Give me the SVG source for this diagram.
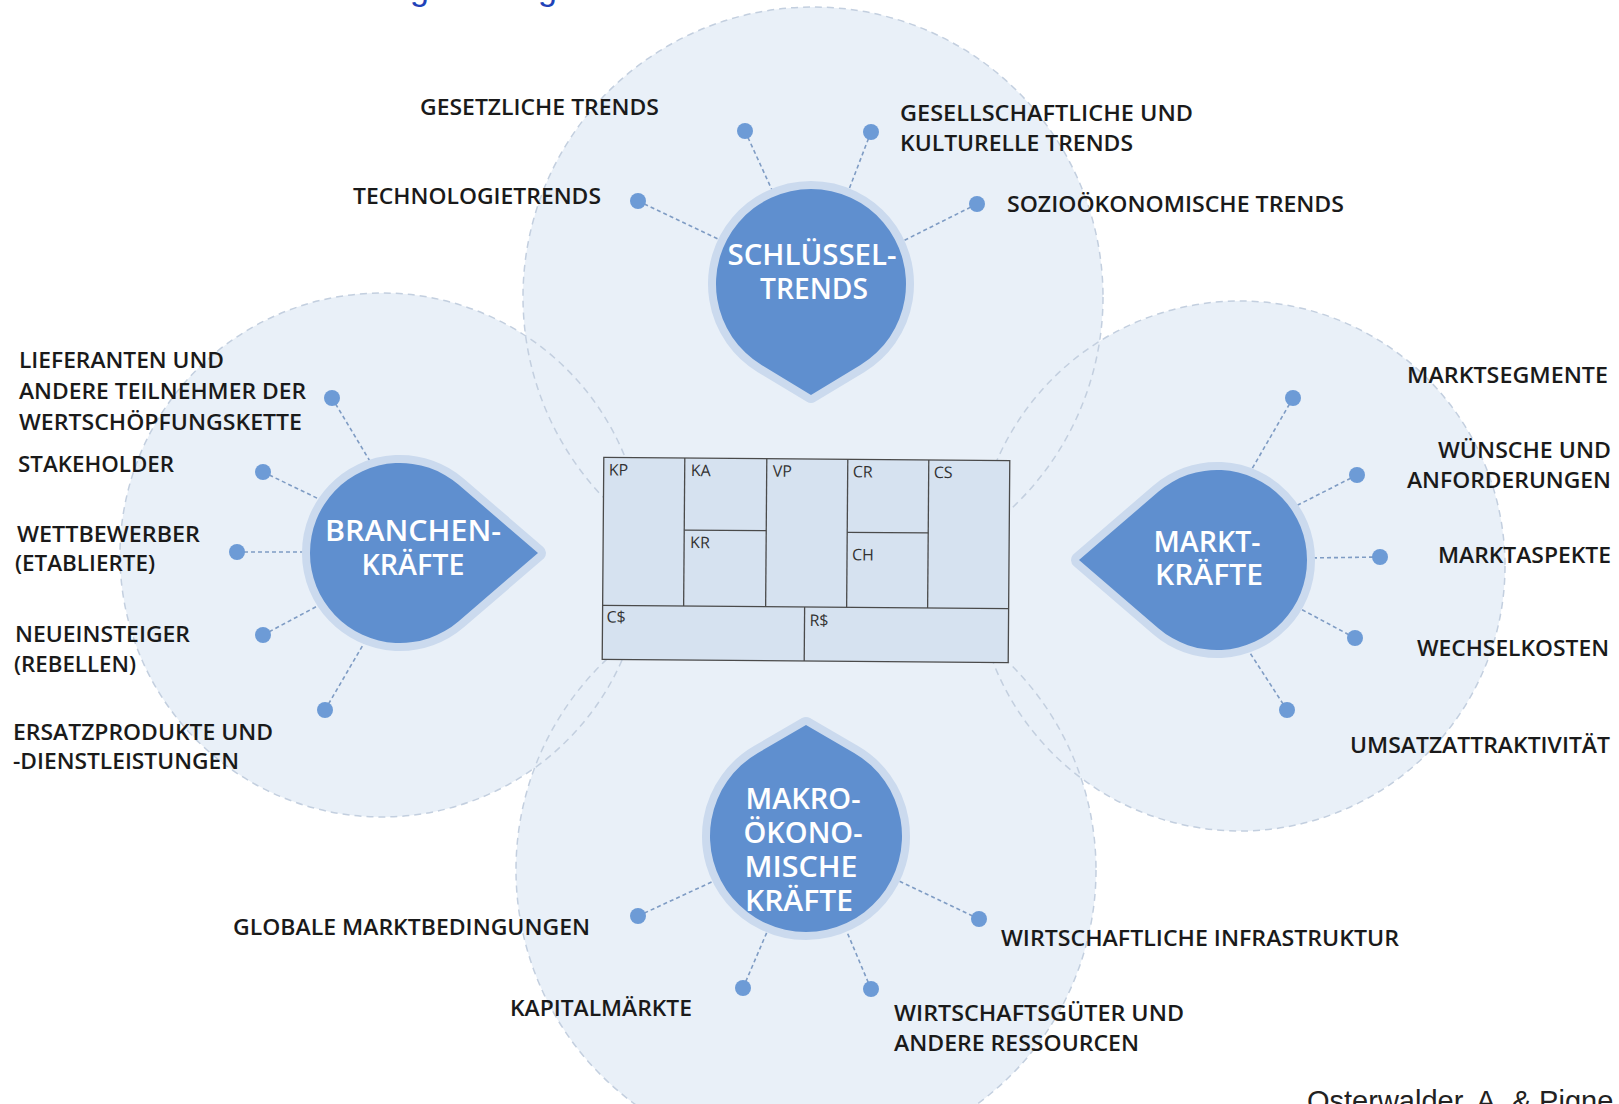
<svg xmlns="http://www.w3.org/2000/svg" width="1619" height="1104" viewBox="0 0 1619 1104">
<defs>
<style>
.bg{fill:#e9f0f8}
.bgedge{fill:none;stroke:#c3cfdf;stroke-width:1.5;stroke-dasharray:7 5}
.halo{fill:#cbdaee;stroke:#cbdaee;stroke-width:16;stroke-linejoin:round}
.drop{fill:#5f8fcf}
.dt{font-family:"Open Sans","Noto Sans",sans-serif;font-weight:600;font-size:29px;fill:#ffffff;text-anchor:middle}
.lbl{font-family:"Open Sans","Noto Sans",sans-serif;font-weight:600;font-size:22px;fill:#1a1a1a}
.end{text-anchor:end}
.dot{fill:#6d9bd6}
.con line{stroke:#7f9cc4;stroke-width:1.6;stroke-dasharray:4 3}
.cv{fill:#d6e2f0;stroke:#4a4a4a;stroke-width:1.3}
.cvl{stroke:#4a4a4a;stroke-width:1.3}
.ct{font-family:"Open Sans","Noto Sans",sans-serif;font-size:16px;fill:#333}
</style>
</defs>
<rect width="1619" height="1104" fill="#ffffff"/>
<text x="410" y="0" font-family="Liberation Sans, Arial, sans-serif" font-size="34" fill="#2142b8">g</text>
<text x="538" y="0" font-family="Liberation Sans, Arial, sans-serif" font-size="34" fill="#2142b8">g</text>
<g id="background">
<circle class="bg" cx="813" cy="297" r="290"/>
<circle class="bg" cx="382" cy="555" r="262"/>
<circle class="bg" cx="1240" cy="566" r="265"/>
<circle class="bg" cx="806" cy="870" r="290"/>
<circle class="bgedge" cx="813" cy="297" r="290"/>
<circle class="bgedge" cx="382" cy="555" r="262"/>
<circle class="bgedge" cx="1240" cy="566" r="265"/>
<circle class="bgedge" cx="806" cy="870" r="290"/>
</g>
<g id="canvas" transform="rotate(0.45 806 560)">
<rect class="cv" x="603" y="459" width="406" height="202"/>
<line class="cvl" x1="603" y1="607" x2="1009" y2="607"/>
<line class="cvl" x1="684" y1="459" x2="684" y2="607"/>
<line class="cvl" x1="766" y1="459" x2="766" y2="607"/>
<line class="cvl" x1="847" y1="459" x2="847" y2="607"/>
<line class="cvl" x1="928" y1="459" x2="928" y2="607"/>
<line class="cvl" x1="684" y1="531" x2="766" y2="531"/>
<line class="cvl" x1="847" y1="532" x2="928" y2="532"/>
<line class="cvl" x1="805" y1="607" x2="805" y2="661"/>
<text class="ct" x="608" y="477">KP</text>
<text class="ct" x="690" y="477">KA</text>
<text class="ct" x="772" y="477">VP</text>
<text class="ct" x="852" y="477">CR</text>
<text class="ct" x="933" y="477">CS</text>
<text class="ct" x="690" y="549">KR</text>
<text class="ct" x="852" y="560">CH</text>
<text class="ct" x="607" y="624">C$</text>
<text class="ct" x="810" y="626">R$</text>
</g>
<g id="connectors" class="con">
<line x1="745" y1="131" x2="772" y2="190"/>
<line x1="871" y1="132" x2="848" y2="192"/>
<line x1="638" y1="201" x2="720" y2="240"/>
<line x1="977" y1="204" x2="903" y2="241"/>
<line x1="332" y1="398" x2="371" y2="463"/>
<line x1="263" y1="472" x2="325" y2="502"/>
<line x1="237" y1="552" x2="312" y2="552"/>
<line x1="263" y1="635" x2="325" y2="602"/>
<line x1="325" y1="710" x2="367" y2="638"/>
<line x1="1293" y1="398" x2="1249" y2="474"/>
<line x1="1357" y1="475" x2="1292" y2="508"/>
<line x1="1380" y1="557" x2="1307" y2="558"/>
<line x1="1355" y1="638" x2="1297" y2="607"/>
<line x1="1287" y1="710" x2="1250" y2="653"/>
<line x1="638" y1="916" x2="716" y2="880"/>
<line x1="979" y1="919" x2="897" y2="880"/>
<line x1="743" y1="988" x2="767" y2="932"/>
<line x1="871" y1="989" x2="847" y2="932"/>
</g>
<g id="node-schluesseltrends">
<path class="halo" d="M811,395 L761.9,365.3 A95,95 0 1 1 860.1,365.3 Z"/>
<path class="drop" d="M811,395 L761.9,365.3 A95,95 0 1 1 860.1,365.3 Z"/>
<text class="dt" x="812" y="265" textLength="169" lengthAdjust="spacingAndGlyphs">SCHLÜSSEL-</text>
<text class="dt" x="814" y="299" textLength="108" lengthAdjust="spacingAndGlyphs">TRENDS</text>
</g>
<g id="node-branchenkraefte">
<path class="halo" d="M538,553 L458.7,621.2 A90,90 0 1 1 458.7,484.8 Z"/>
<path class="drop" d="M538,553 L458.7,621.2 A90,90 0 1 1 458.7,484.8 Z"/>
<text class="dt" x="413" y="541" textLength="176" lengthAdjust="spacingAndGlyphs">BRANCHEN-</text>
<text class="dt" x="413" y="575" textLength="103" lengthAdjust="spacingAndGlyphs">KRÄFTE</text>
</g>
<g id="node-marktkraefte">
<path class="halo" d="M1079,560 L1158.3,491.8 A90,90 0 1 1 1158.3,628.2 Z"/>
<path class="drop" d="M1079,560 L1158.3,491.8 A90,90 0 1 1 1158.3,628.2 Z"/>
<text class="dt" x="1207" y="552" textLength="107" lengthAdjust="spacingAndGlyphs">MARKT-</text>
<text class="dt" x="1209" y="585" textLength="108" lengthAdjust="spacingAndGlyphs">KRÄFTE</text>
</g>
<g id="node-makrooekonomische-kraefte">
<path class="halo" d="M806,725 L854.1,753 A96,96 0 1 1 757.9,753 Z"/>
<path class="drop" d="M806,725 L854.1,753 A96,96 0 1 1 757.9,753 Z"/>
<text class="dt" x="803" y="809" textLength="115" lengthAdjust="spacingAndGlyphs">MAKRO-</text>
<text class="dt" x="803" y="843" textLength="119" lengthAdjust="spacingAndGlyphs">ÖKONO-</text>
<text class="dt" x="801" y="877" textLength="113" lengthAdjust="spacingAndGlyphs">MISCHE</text>
<text class="dt" x="799" y="911" textLength="108" lengthAdjust="spacingAndGlyphs">KRÄFTE</text>
</g>
<g id="item-gesetzliche"><circle class="dot" cx="745" cy="131" r="8"/><text class="lbl" x="420" y="115" textLength="239" lengthAdjust="spacingAndGlyphs">GESETZLICHE TRENDS</text></g>
<g id="item-gesellschaftliche"><circle class="dot" cx="871" cy="132" r="8"/><text class="lbl" x="900" y="121" textLength="293" lengthAdjust="spacingAndGlyphs">GESELLSCHAFTLICHE UND</text><text class="lbl" x="900" y="151" textLength="233" lengthAdjust="spacingAndGlyphs">KULTURELLE TRENDS</text></g>
<g id="item-technologie"><circle class="dot" cx="638" cy="201" r="8"/><text class="lbl" x="353" y="204" textLength="248" lengthAdjust="spacingAndGlyphs">TECHNOLOGIETRENDS</text></g>
<g id="item-sozio"><circle class="dot" cx="977" cy="204" r="8"/><text class="lbl" x="1007" y="212" textLength="337" lengthAdjust="spacingAndGlyphs">SOZIOÖKONOMISCHE TRENDS</text></g>
<g id="item-lieferanten"><circle class="dot" cx="332" cy="398" r="8"/><text class="lbl" x="19" y="368" textLength="205" lengthAdjust="spacingAndGlyphs">LIEFERANTEN UND</text><text class="lbl" x="19" y="399" textLength="287" lengthAdjust="spacingAndGlyphs">ANDERE TEILNEHMER DER</text><text class="lbl" x="19" y="430" textLength="283" lengthAdjust="spacingAndGlyphs">WERTSCHÖPFUNGSKETTE</text></g>
<g id="item-stakeholder"><circle class="dot" cx="263" cy="472" r="8"/><text class="lbl" x="18" y="472" textLength="156" lengthAdjust="spacingAndGlyphs">STAKEHOLDER</text></g>
<g id="item-wettbewerber"><circle class="dot" cx="237" cy="552" r="8"/><text class="lbl" x="17" y="542" textLength="183" lengthAdjust="spacingAndGlyphs">WETTBEWERBER</text><text class="lbl" x="15" y="571" textLength="140" lengthAdjust="spacingAndGlyphs">(ETABLIERTE)</text></g>
<g id="item-neueinsteiger"><circle class="dot" cx="263" cy="635" r="8"/><text class="lbl" x="15" y="642" textLength="175" lengthAdjust="spacingAndGlyphs">NEUEINSTEIGER</text><text class="lbl" x="14" y="672" textLength="122" lengthAdjust="spacingAndGlyphs">(REBELLEN)</text></g>
<g id="item-ersatz"><circle class="dot" cx="325" cy="710" r="8"/><text class="lbl" x="13" y="740" textLength="260" lengthAdjust="spacingAndGlyphs">ERSATZPRODUKTE UND</text><text class="lbl" x="13" y="769" textLength="226" lengthAdjust="spacingAndGlyphs">-DIENSTLEISTUNGEN</text></g>
<g id="item-marktsegmente"><circle class="dot" cx="1293" cy="398" r="8"/><text class="lbl end" x="1608" y="383" textLength="201" lengthAdjust="spacingAndGlyphs">MARKTSEGMENTE</text></g>
<g id="item-wuensche"><circle class="dot" cx="1357" cy="475" r="8"/><text class="lbl end" x="1611" y="458" textLength="173" lengthAdjust="spacingAndGlyphs">WÜNSCHE UND</text><text class="lbl end" x="1611" y="488" textLength="204" lengthAdjust="spacingAndGlyphs">ANFORDERUNGEN</text></g>
<g id="item-marktaspekte"><circle class="dot" cx="1380" cy="557" r="8"/><text class="lbl end" x="1611" y="563" textLength="173" lengthAdjust="spacingAndGlyphs">MARKTASPEKTE</text></g>
<g id="item-wechselkosten"><circle class="dot" cx="1355" cy="638" r="8"/><text class="lbl end" x="1609" y="656" textLength="192" lengthAdjust="spacingAndGlyphs">WECHSELKOSTEN</text></g>
<g id="item-umsatz"><circle class="dot" cx="1287" cy="710" r="8"/><text class="lbl end" x="1610" y="753" textLength="260" lengthAdjust="spacingAndGlyphs">UMSATZATTRAKTIVITÄT</text></g>
<g id="item-global"><circle class="dot" cx="638" cy="916" r="8"/><text class="lbl" x="233" y="935" textLength="357" lengthAdjust="spacingAndGlyphs">GLOBALE MARKTBEDINGUNGEN</text></g>
<g id="item-infrastruktur"><circle class="dot" cx="979" cy="919" r="8"/><text class="lbl" x="1001" y="946" textLength="398" lengthAdjust="spacingAndGlyphs">WIRTSCHAFTLICHE INFRASTRUKTUR</text></g>
<g id="item-kapital"><circle class="dot" cx="743" cy="988" r="8"/><text class="lbl" x="510" y="1016" textLength="182" lengthAdjust="spacingAndGlyphs">KAPITALMÄRKTE</text></g>
<g id="item-gueter"><circle class="dot" cx="871" cy="989" r="8"/><text class="lbl" x="894" y="1021" textLength="290" lengthAdjust="spacingAndGlyphs">WIRTSCHAFTSGÜTER UND</text><text class="lbl" x="894" y="1051" textLength="245" lengthAdjust="spacingAndGlyphs">ANDERE RESSOURCEN</text></g>
<text x="1307" y="1111" font-family="Liberation Sans, Arial, sans-serif" font-size="29" fill="#222">Osterwalder, A. &amp; Pigne</text>
</svg>
